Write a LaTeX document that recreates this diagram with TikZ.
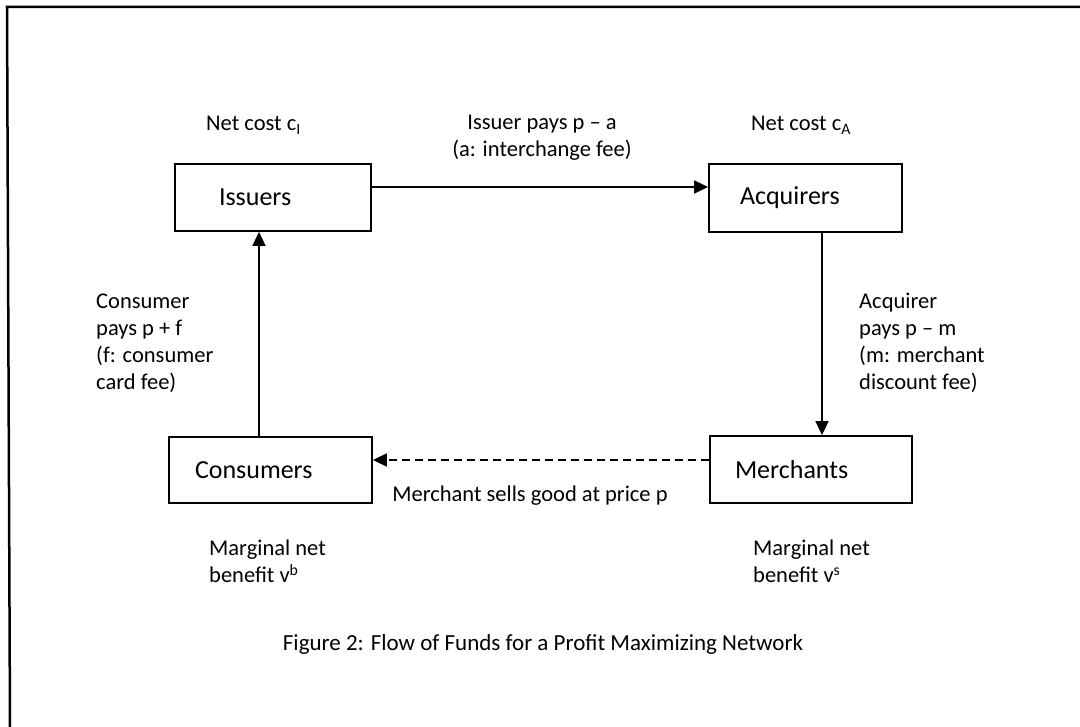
\documentclass[tikz,border=0pt]{standalone}
\usepackage{fontspec}
\setmainfont{Carlito}
\usetikzlibrary{arrows.meta}
\begin{document}
\begin{tikzpicture}[x=1pt,y=-1pt,
  box/.style={draw,line width=1.8pt,inner ysep=0pt,align=left,font=\fontsize{26}{30}\selectfont},
  arr/.style={line width=1.8pt,-{Triangle[length=14pt,width=13pt]}},
  dasharr/.style={arr,dash pattern=on 8pt off 5pt},
  lbl/.style={inner sep=0pt,font=\fontsize{22.5}{27}\selectfont,align=left},
  frame/.style={line width=2.5pt}]
\useasboundingbox (0,0) rectangle (1080,727);
\fill[white] (0,0) rectangle (1080,727);
% frame
\coordinate (ftl) at (7,7);
\coordinate (ftr) at (1080,7);
\coordinate (fbl) at (10,727);
\draw[frame] (fbl) -- (ftl) -- (ftr);
% boxes
\node[box,inner xsep=44pt,text width=108pt,minimum height=67pt] (iss) at (273,197.5) {Issuers};
\node[box,inner xsep=31pt,text width=131pt,minimum height=68pt] (acq) at (805.5,198) {Acquirers};
\node[box,inner xsep=25pt,text width=152pt,minimum height=67pt] (mer) at (811,469.5) {Merchants};
\node[box,inner xsep=26pt,text width=151pt,minimum height=66pt] (con) at (270.5,470) {Consumers};
% connectors
\draw[arr] ([yshift=10.5pt]iss.east) -- ([yshift=10.5pt]iss.east -| acq.west);
\draw[arr] ([xshift=16.5pt]acq.south) -- ([xshift=16.5pt]acq.south |- mer.north);
\draw[dasharr] ([yshift=9.5pt]mer.west) -- ([yshift=9.5pt]mer.west -| con.east);
\draw[arr] ([xshift=-11.5pt]con.north) -- ([xshift=-11.5pt]con.north |- iss.south);
% labels
\node[lbl,anchor=base west] (netI) at (206,131) {Net cost c\textsubscript{I}};
\node[lbl,anchor=base west] (netA) at (751,131) {Net cost c\textsubscript{A}};
\node[lbl,anchor=north,align=center] (ipay) at (542,115) {Issuer pays p – a\\(a: interchange fee)};
\node[lbl,anchor=north west] (cpay) at (96,294) {Consumer\\pays p + f\\(f: consumer\\card fee)};
\node[lbl,anchor=north west] (apay) at (859,293) {Acquirer\\pays p – m\\(m: merchant\\discount fee)};
\node[lbl,anchor=base] (sell) at (530,501) {Merchant sells good at price p};
\node[lbl,anchor=north west] (mnb) at (209,540) {Marginal net\\benefit v\textsuperscript{b}};
\node[lbl,anchor=north west] (mns) at (753,540) {Marginal net\\benefit v\textsuperscript{s}};
\node[lbl,anchor=base,font=\fontsize{23}{27}\selectfont] (cap) at (543,650) {Figure 2: Flow of Funds for a Profit Maximizing Network};
\end{tikzpicture}
\end{document}
